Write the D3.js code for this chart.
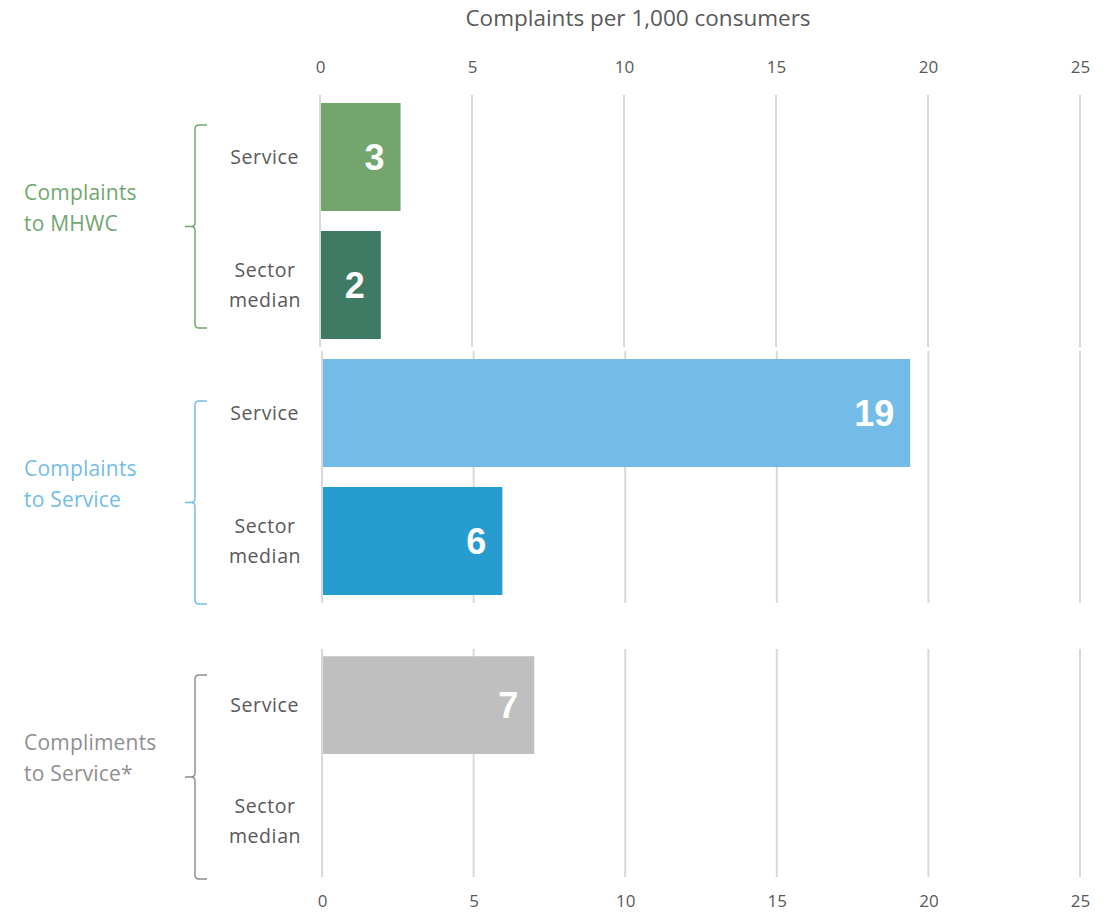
<!DOCTYPE html>
<html>
<head>
<meta charset="utf-8">
<script src="https://cdn.jsdelivr.net/npm/d3@7"></script>
<style>
  body { margin: 0; background: #fff; }
  text { font-family: "Open Sans", sans-serif; }
</style>
</head>
<body>
<div id="chart"></div>
<script>

// data
let groupNames = [["Complaints", "to MHWC"], ["Complaints", "to Service"], ["Compliments", "to Service*"]];
let categories = ["Service", "Sector median"];
let mhwcValues = [2.65, 2.0];
let serviceValues = [19.4, 5.95];
let complimentValues = [7.0, null];
let xTicks = [0, 5, 10, 15, 20, 25];
let axisTitle = "Complaints per 1,000 consumers";

let groupValues = [mhwcValues, serviceValues, complimentValues];
let groupColors = ["#72a66f", "#74bce8", "#8f8f8f"];
let barColors = [["#74a56f", "#3f7a64"], ["#74bce8", "#279ccf"], ["#bfbfbf", "#bfbfbf"]];

// layout
let width = 1117, height = 919;
let panels = [
    {top: 95, bottom: 347, x0: 320, brTop: 125, brBot: 328},
    {top: 351, bottom: 603, x0: 322, brTop: 401, brBot: 604},
    {top: 649, bottom: 877, x0: 322, brTop: 675, brBot: 879}
];

let svg = d3.select("#chart").append("svg")
    .attr("width", width)
    .attr("height", height);

// title
svg.append("text")
    .attr("x", 638)
    .attr("y", 26)
    .attr("text-anchor", "middle")
    .attr("fill", "#595959")
    .style("font-size", "22.5px")
    .text(axisTitle);

panels.forEach((p, i) => {
    let x = d3.scaleLinear().domain([0, 25]).range([p.x0, 1080]);
    let y = d3.scaleBand().domain(categories).range([p.top, p.bottom])
        .paddingInner(0.156).paddingOuter(0.0625);
    let g = svg.append("g");

    // gridlines
    g.selectAll(".grid")
        .data(xTicks)
        .enter().append("line")
        .attr("x1", d => x(d)).attr("x2", d => x(d))
        .attr("y1", p.top).attr("y2", p.bottom)
        .style("stroke", "#d9d9d9")
        .style("stroke-width", 2);

    // bars
    let rows = categories.map((c, j) => ({cat: c, value: groupValues[i][j], color: barColors[i][j]}))
        .filter(d => d.value != null);

    g.selectAll(".bar")
        .data(rows)
        .enter().append("rect")
        .attr("x", x(0) + 1)
        .attr("y", d => y(d.cat))
        .attr("width", d => x(d.value) - x(0) - 1)
        .attr("height", y.bandwidth())
        .style("fill", d => d.color);

    g.selectAll(".val")
        .data(rows)
        .enter().append("text")
        .attr("x", d => x(d.value) - 16)
        .attr("y", d => y(d.cat) + y.bandwidth() / 2 + 13)
        .attr("text-anchor", "end")
        .attr("fill", "#fff")
        .style("font-family", "'Liberation Sans', Arial, sans-serif")
        .style("font-weight", "bold")
        .style("font-size", "36px")
        .text(d => d3.format(".0f")(d.value));

    // category labels
    categories.forEach(c => {
        let cy = y(c) + y.bandwidth() / 2;
        let words = c.split(" ");
        let lx = words.length > 1 ? 265 : 299;
        let t = g.append("text")
            .attr("text-anchor", words.length > 1 ? "middle" : "end")
            .attr("x", lx)
            .attr("y", cy + 7 - (words.length - 1) * 15)
            .attr("fill", "#595959")
            .style("font-size", "19.5px")
            .style("letter-spacing", "0.6px");
        words.forEach((w, k) => {
            t.append("tspan")
                .attr("x", lx)
                .attr("dy", k === 0 ? 0 : 30)
                .text(w);
        });
    });

    // bracket
    let mid = (p.brTop + p.brBot) / 2;
    let bx = 195, r = 4;
    g.append("path")
        .attr("d", `M207,${p.brTop} L${bx + r},${p.brTop} Q${bx},${p.brTop} ${bx},${p.brTop + r}
            L${bx},${mid - r} Q${bx},${mid} ${bx - r},${mid} L185,${mid} L${bx - r},${mid} Q${bx},${mid} ${bx},${mid + r}
            L${bx},${p.brBot - r} Q${bx},${p.brBot} ${bx + r},${p.brBot} L207,${p.brBot}`)
        .style("fill", "none")
        .style("stroke", groupColors[i])
        .style("stroke-width", 1.5);

    // group label
    let gl = g.append("text")
        .attr("x", 24)
        .attr("y", mid - 27)
        .attr("fill", groupColors[i])
        .style("font-size", "21px")
        .style("letter-spacing", "0.2px");
    groupNames[i].forEach((w, k) => {
        gl.append("tspan").attr("x", 24).attr("dy", k === 0 ? 0 : 31).text(w);
    });

    // axes
    if (i === 0) {
        svg.append("g")
            .attr("transform", "translate(0,73)")
            .call(d3.axisTop(x).tickValues(xTicks).tickSize(0).tickPadding(0))
            .call(a => a.select(".domain").remove())
            .call(a => a.selectAll("text").attr("fill", "#595959").style("font-size", "17px").style("font-family", "'Open Sans', sans-serif"));
    }
    if (i === 2) {
        svg.append("g")
            .attr("transform", "translate(0,895)")
            .call(d3.axisBottom(x).tickValues(xTicks).tickSize(0).tickPadding(0))
            .call(a => a.select(".domain").remove())
            .call(a => a.selectAll("text").attr("fill", "#595959").style("font-size", "17px").style("font-family", "'Open Sans', sans-serif"));
    }
});

</script>
</body>
</html>
